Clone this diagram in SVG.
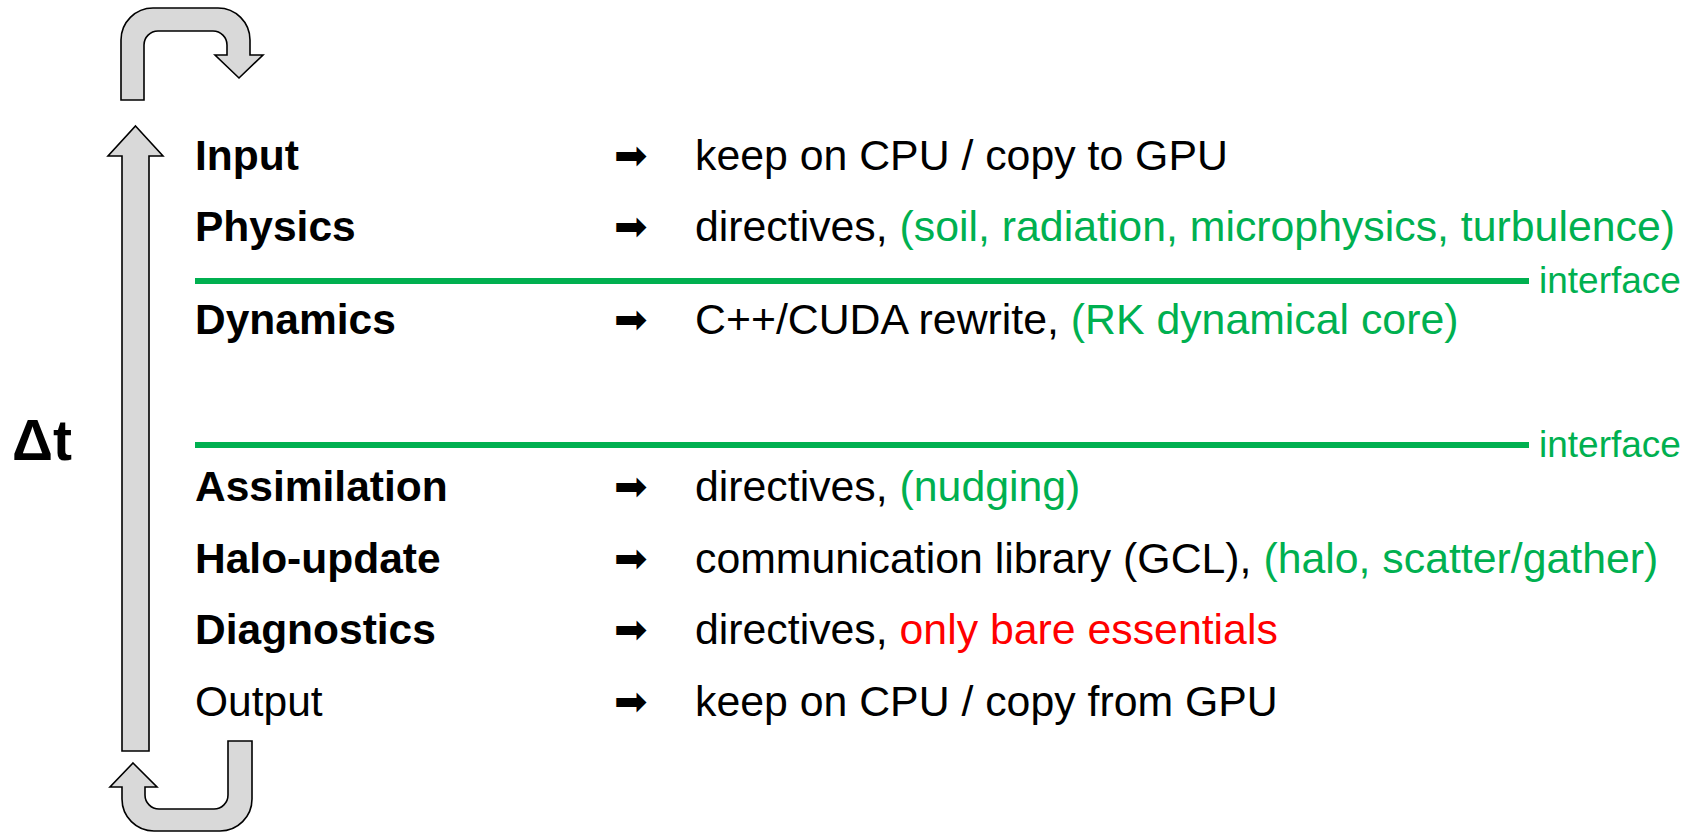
<svg xmlns="http://www.w3.org/2000/svg" width="1695" height="833" viewBox="0 0 1695 833">
<style>
.lbl{font-family:"Liberation Sans",Arial,sans-serif;font-size:42.5px;font-weight:bold;fill:#000}
.lbln{font-family:"Liberation Sans",Arial,sans-serif;font-size:42.5px;fill:#000}
.txt{font-family:"Liberation Sans",Arial,sans-serif;font-size:42.8px;fill:#000}
.arr{font-family:"DejaVu Sans",sans-serif;font-size:40px;fill:#000}
.g{fill:#00B050}
.r{fill:#FF0000}
.ifc{font-family:"Liberation Sans",Arial,sans-serif;font-size:37px;fill:#00B050}
.big{fill:#D9D9D9;stroke:#000;stroke-width:1.6;stroke-linejoin:miter}
.sep{stroke:#00B050;stroke-width:6}
</style>
<rect width="1695" height="833" fill="#fff"/>
<g id="loop">
<path class="big" d="M121,100 L121,40 A32,32 0 0 1 153,8 L218,8 A32,32 0 0 1 250,40 L250,55 L263,55 L239,78 L215,55 L227,55 L227,45 A14,14 0 0 0 213,31 L158,31 A14,14 0 0 0 144,45 L144,100 Z"/>
<path class="big" d="M135.5,126 L163,156 L149,156 L149,751 L122,751 L122,156 L108,156 Z"/>
<path class="big" d="M133,763 L157,787 L145,787 L145,795 A14,14 0 0 0 159,809 L214,809 A14,14 0 0 0 228,795 L228,741 L252,741 L252,799 A32,32 0 0 1 220,831 L154,831 A32,32 0 0 1 122,799 L122,787 L110,787 Z"/>
<text x="12" y="460" font-family="Liberation Sans, Arial, sans-serif" font-size="57" font-weight="bold">Δt</text>
</g>
<g id="interfaces">
<line class="sep" x1="195" y1="281" x2="1529" y2="281"/>
<text class="ifc" x="1539" y="293">interface</text>
<line class="sep" x1="195" y1="445" x2="1529" y2="445"/>
<text class="ifc" x="1539" y="457">interface</text>
</g>
<g id="row-input">
<text class="lbl" x="195" y="170">Input</text>
<text class="arr" x="614" y="169">➡</text>
<text class="txt" x="695" y="170">keep on CPU / copy to GPU</text>
</g>
<g id="row-physics">
<text class="lbl" x="195" y="241">Physics</text>
<text class="arr" x="614" y="240">➡</text>
<text class="txt" x="695" y="241">directives, <tspan class="g">(soil, radiation, microphysics, turbulence)</tspan></text>
</g>
<g id="row-dynamics">
<text class="lbl" x="195" y="334">Dynamics</text>
<text class="arr" x="614" y="333">➡</text>
<text class="txt" x="695" y="334">C++/CUDA rewrite, <tspan class="g">(RK dynamical core)</tspan></text>
</g>
<g id="row-assimilation">
<text class="lbl" x="195" y="501">Assimilation</text>
<text class="arr" x="614" y="500">➡</text>
<text class="txt" x="695" y="501">directives, <tspan class="g">(nudging)</tspan></text>
</g>
<g id="row-halo">
<text class="lbl" x="195" y="573">Halo-update</text>
<text class="arr" x="614" y="572">➡</text>
<text class="txt" x="695" y="573">communication library (GCL), <tspan class="g">(halo, scatter/gather)</tspan></text>
</g>
<g id="row-diagnostics">
<text class="lbl" x="195" y="644">Diagnostics</text>
<text class="arr" x="614" y="643">➡</text>
<text class="txt" x="695" y="644">directives, <tspan class="r">only bare essentials</tspan></text>
</g>
<g id="row-output">
<text class="lbln" x="195" y="716">Output</text>
<text class="arr" x="614" y="715">➡</text>
<text class="txt" x="695" y="716">keep on CPU / copy from GPU</text>
</g>
</svg>
